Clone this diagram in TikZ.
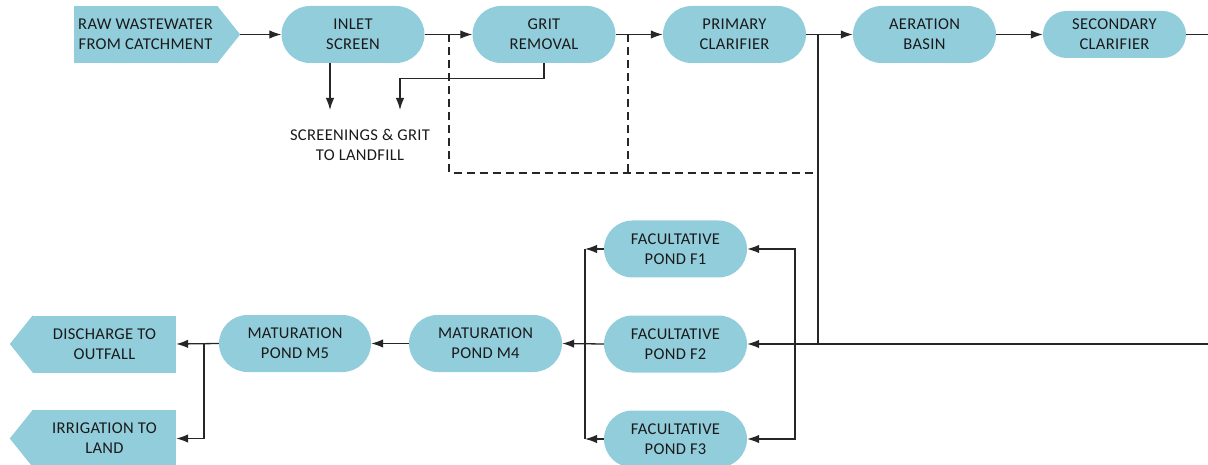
\documentclass[tikz,border=0pt]{standalone}
\usepackage{fontspec}
\setmainfont{Carlito}
\usetikzlibrary{arrows.meta,calc}
\definecolor{pondblue}{HTML}{92CDDC}
\definecolor{lineg}{HTML}{262626}
\definecolor{txt}{HTML}{1A1A1A}
\newcommand{\dfont}{\fontsize{16.5}{20}\selectfont\addfontfeatures{LetterSpace=2}}
\begin{document}
\begin{tikzpicture}[x=1pt,y=-1pt,
  proc/.style={rectangle, fill=pondblue, minimum width=143pt, minimum height=57pt,
    rounded corners=28.5pt, align=center, text=txt, font=\dfont, inner sep=0pt},
  procs/.style={proc, minimum height=47pt, rounded corners=23.5pt},
  body/.style={rectangle, fill=pondblue, minimum width=143pt, minimum height=57pt,
    align=center, text=txt, font=\dfont, inner sep=0pt},
  lbl/.style={align=center, text=txt, font=\dfont, inner sep=0pt},
  conn/.style={draw=lineg, line width=1.3pt},
  arr/.style={conn, -{Latex[length=12pt,width=8.5pt]}},
  bypass/.style={draw=lineg, line width=1.3pt, dash pattern=on 8pt off 5pt}]
\useasboundingbox (0,0) rectangle (1208,465);

% shapes with pointers
\node[body] (raw) at (145.5,34.5) {RAW WASTEWATER\\FROM CATCHMENT};
\fill[pondblue] (raw.north east) -- ($(raw.east)+(23,0)$) -- (raw.south east) -- cycle;
\coordinate (rawtip) at ($(raw.east)+(23,0)$);

\node[body] (dis) at (104.5,344) {DISCHARGE TO\\OUTFALL};
\fill[pondblue] (dis.north west) -- ($(dis.west)+(-23,0)$) -- (dis.south west) -- cycle;

\node[body] (irr) at (104.5,438.5) {IRRIGATION TO\\LAND};
\fill[pondblue] (irr.north west) -- ($(irr.west)+(-23,0)$) -- (irr.south west) -- cycle;

% process nodes
\node[proc] (inlet) at (353,34.5) {INLET\\SCREEN};
\node[proc] (grit) at (544,34.5) {GRIT\\REMOVAL};
\node[proc] (prim) at (734.5,34.5) {PRIMARY\\CLARIFIER};
\node[proc] (aer) at (924.5,34.5) {AERATION\\BASIN};
\node[procs] (sec) at (1114.5,34.5) {SECONDARY\\CLARIFIER};

\node[proc] (f1) at (675.5,249) {FACULTATIVE\\POND F1};
\node[proc] (f2) at (675.5,344) {FACULTATIVE\\POND F2};
\node[proc] (f3) at (675.5,439) {FACULTATIVE\\POND F3};

\node[proc, minimum width=153pt] (m4) at (485.5,343.5) {MATURATION\\POND M4};
\node[proc, minimum width=152pt] (m5) at (295,343.5) {MATURATION\\POND M5};

\node[lbl] (landfill) at (360,145) {SCREENINGS \& GRIT\\TO LANDFILL};

% coordinates
\coordinate (lf1) at (330,110);
\coordinate (lf2) at (400,110);
\coordinate (d1) at (449,34.5);
\coordinate (d2) at (628,34.5);
\coordinate (j) at (818,34.5);
\coordinate (jb) at (818,344);
\coordinate (ret) at (1216,34.5);
\coordinate (colR) at (795,344);
\coordinate (colL1) at (585,249);
\coordinate (colL3) at (585,439);
\coordinate (split) at (204,344);

% main line
\draw[arr] (rawtip) -- (inlet.west);
\draw[arr] (inlet.east) -- (grit.west);
\draw[arr] (grit.east) -- (prim.west);
\draw[arr] (prim.east) -- (aer.west);
\draw[arr] (aer.east) -- (sec.west);

% screenings
\draw[arr] (inlet.south -| lf1) -- (lf1);
\draw[arr] (grit.south) -- ++(0,15) -| (lf2);

% bypass
\draw[bypass] (d1) -- (d1 |- 0,173) -- (j |- 0,173);
\draw[bypass] (d2) -- (d2 |- 0,173);
\draw[conn] (j) -- (jb);

% return to ponds
\draw[arr] (sec.east) -- (ret) -- (ret |- f2) -- (f2.east);
\draw[arr] (colR) |- (f1.east);
\draw[arr] (colR) |- (f3.east);

% pond outlets
\draw[arr] (f1.west) -- (colL1);
\draw[arr] (f3.west) -- (colL3);
\draw[conn] (colL1) -- (colL3);
\draw[arr] (f2.west) -- (m4.east);
\draw[arr] (m4.west) -- (m5.east);
\draw[arr] (m5.west) -- (dis.east);
\draw[arr] (split) |- (irr.east);
\end{tikzpicture}
\end{document}
